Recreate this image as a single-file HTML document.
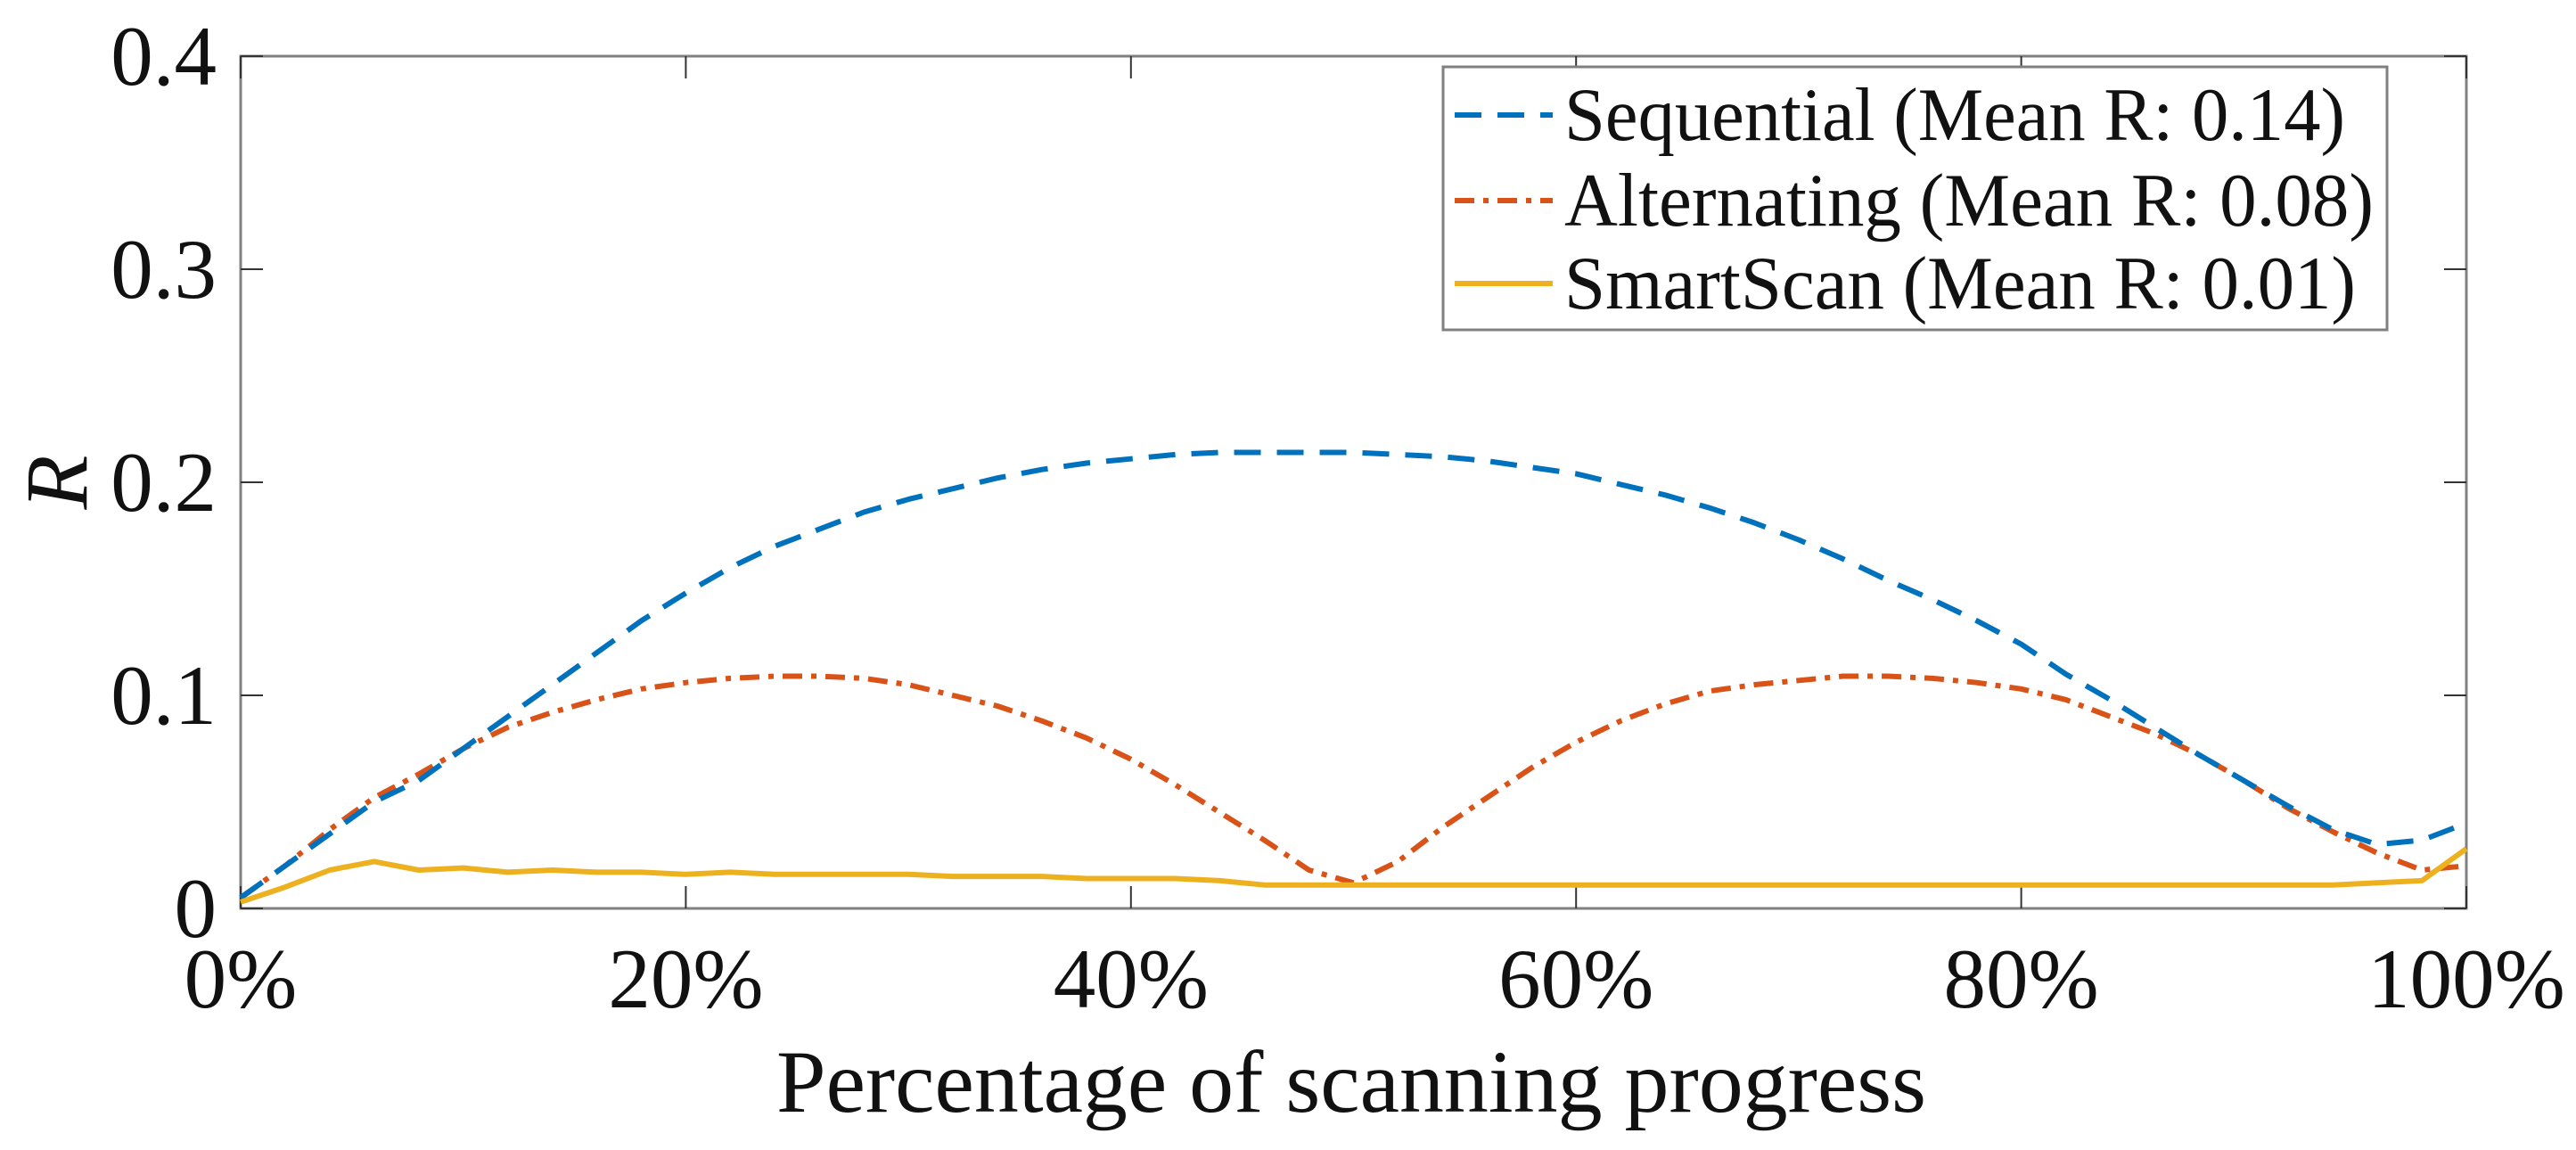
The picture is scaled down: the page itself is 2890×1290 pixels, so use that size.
<!DOCTYPE html>
<html><head><meta charset="utf-8"><style>
html,body{margin:0;padding:0;background:#fff;}
svg text{font-family:"Liberation Serif",serif;fill:#111;}
</style></head><body>
<svg id="chart" width="2890" height="1285" xmlns="http://www.w3.org/2000/svg">
<g id="plot"></g>
</svg>
<script>
const xPercents=[0,2,4,6,8,10,12,14,16,18,20,22,24,26,28,30,32,34,36,38,40,42,44,46,48,50,52,54,56,58,60,62,64,66,68,70,72,74,76,78,80,82,84,86,88,90,92,94,96,98,100];
const sequentialR=[0.005,0.02,0.035,0.05,0.06,0.075,0.09,0.105,0.12,0.135,0.148,0.16,0.17,0.178,0.186,0.192,0.197,0.202,0.206,0.209,0.211,0.213,0.214,0.214,0.214,0.214,0.213,0.212,0.21,0.207,0.204,0.199,0.194,0.188,0.181,0.173,0.164,0.154,0.145,0.135,0.124,0.11,0.098,0.085,0.072,0.06,0.048,0.037,0.03,0.032,0.04];
const alternatingR=[0.005,0.02,0.037,0.052,0.063,0.075,0.085,0.092,0.098,0.103,0.106,0.108,0.109,0.109,0.108,0.105,0.1,0.095,0.088,0.08,0.07,0.058,0.045,0.032,0.018,0.012,0.022,0.038,0.052,0.066,0.078,0.088,0.096,0.102,0.105,0.107,0.109,0.109,0.108,0.106,0.103,0.098,0.09,0.082,0.072,0.06,0.047,0.036,0.026,0.018,0.02];
const smartScanR=[0.003,0.01,0.018,0.022,0.018,0.019,0.017,0.018,0.017,0.017,0.016,0.017,0.016,0.016,0.016,0.016,0.015,0.015,0.015,0.014,0.014,0.014,0.013,0.011,0.011,0.011,0.011,0.011,0.011,0.011,0.011,0.011,0.011,0.011,0.011,0.011,0.011,0.011,0.011,0.011,0.011,0.011,0.011,0.011,0.011,0.011,0.011,0.011,0.012,0.013,0.028];
const xTicks=[0,20,40,60,80,100];
const xTickLabels=["0%","20%","40%","60%","80%","100%"];
const yTicks=[0,0.1,0.2,0.3,0.4];
const yTickLabels=["0","0.1","0.2","0.3","0.4"];
const legendLabels=["Sequential (Mean R: 0.14)","Alternating (Mean R: 0.08)","SmartScan (Mean R: 0.01)"];

const L=270,R=2767,T=63,B=1019;
const sx=v=>L+(v/100)*(R-L);
const sy=v=>B-(v/0.4)*(B-T);
const NS="http://www.w3.org/2000/svg";
const g=document.getElementById('plot');
function mk(tag,attrs,parent){const e=document.createElementNS(NS,tag);for(const k in attrs)e.setAttribute(k,attrs[k]);(parent||g).appendChild(e);return e;}

// axes box
const box=mk('rect',{x:L,y:T,width:R-L,height:B-T,fill:'none',stroke:'#808080','stroke-width':3});



xTicks.forEach((v,i)=>{
  const x=sx(v);
  const t1=mk('line',{x1:x,y1:B,x2:x,y2:B-25,stroke:'#333','stroke-width':2});
  
  
  const t2=mk('line',{x1:x,y1:T,x2:x,y2:T+25,stroke:'#333','stroke-width':2});
  
  
  const tx=mk('text',{x:x,y:1130,'font-size':95,'text-anchor':'middle'});
  tx.textContent=xTickLabels[i];
  
  
});
yTicks.forEach((v,i)=>{
  const y=sy(v);
  const t1=mk('line',{x1:L,y1:y,x2:L+25,y2:y,stroke:'#333','stroke-width':2});
  
  
  const t2=mk('line',{x1:R,y1:y,x2:R-25,y2:y,stroke:'#333','stroke-width':2});
  
  
  const tx=mk('text',{x:243,y:y+32,'font-size':95,'text-anchor':'end'});
  tx.textContent=yTickLabels[i];
  
  
});

const series=[
 {vals:alternatingR,color:'#D95319',dash:'22 10 6 10',name:'series-alternating'},
 {vals:sequentialR,color:'#0072BD',dash:'30 18',name:'series-sequential'},
 {vals:smartScanR,color:'#EDB120',dash:'',name:'series-smartscan'}
];
series.forEach(s=>{
  const d=s.vals.map((v,i)=>(i?'L':'M')+sx(xPercents[i]).toFixed(1)+','+sy(v).toFixed(1)).join(' ');
  const p=mk('path',{d:d,fill:'none',stroke:s.color,'stroke-width':6,'stroke-dasharray':s.dash,'stroke-linejoin':'round'});
  
  
});

// legend
const lg=mk('g',{});


mk('rect',{x:1619,y:75,width:1059,height:295,fill:'#fff',stroke:'#808080','stroke-width':3},lg);
const legColors=['#0072BD','#D95319','#EDB120'];
const legDash=['30 18','22 10 6 10',''];
const legY=[129,225,318];
legendLabels.forEach((lab,i)=>{
  const ln=mk('line',{x1:1632,y1:legY[i],x2:1742,y2:legY[i],stroke:legColors[i],'stroke-width':6,'stroke-dasharray':legDash[i]},lg);
  
  
  const tx=mk('text',{x:1755,y:legY[i]+28,'font-size':85,textLength:[876,908,888][i],lengthAdjust:'spacingAndGlyphs'},lg);
  tx.textContent=lab;
  
  
});

const xl=mk('text',{x:1516,y:1247,'font-size':100,'text-anchor':'middle',textLength:1290,lengthAdjust:'spacingAndGlyphs'});
xl.textContent='Percentage of scanning progress';


const yl=mk('text',{x:0,y:0,'font-size':100,'font-style':'italic','text-anchor':'middle',transform:'translate(97,541) rotate(-90)'});
yl.textContent='R';


</script>
</body></html>
